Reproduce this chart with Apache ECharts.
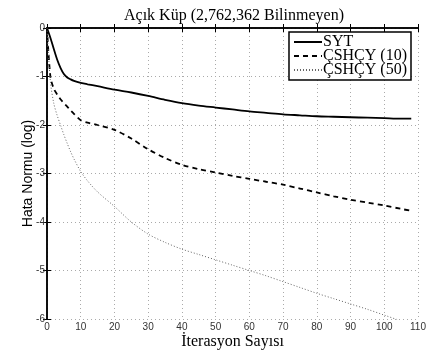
<!DOCTYPE html>
<html>
<head>
<meta charset="utf-8">
<script src="https://cdn.jsdelivr.net/npm/echarts@6/dist/echarts.min.js"></script>
<style>html,body{margin:0;padding:0;background:#fff}#c{width:427px;height:352px}</style>
</head>
<body>
<div id="c"></div>
<script>
const iterations = [0,1,2,3,4,5,6,7,8,10,12,15,20,25,30,35,40,45,50,55,60,65,70,75,80,85,90,95,100,105,108];
const syt = [0,-0.2,-0.43,-0.65,-0.82,-0.95,-1.02,-1.06,-1.09,-1.13,-1.16,-1.2,-1.27,-1.33,-1.4,-1.48,-1.55,-1.6,-1.64,-1.68,-1.72,-1.75,-1.78,-1.8,-1.82,-1.83,-1.84,-1.85,-1.86,-1.87,-1.87];
const cshcy10 = [0,-1.0,-1.25,-1.37,-1.47,-1.55,-1.62,-1.7,-1.77,-1.9,-1.95,-2.0,-2.1,-2.28,-2.5,-2.68,-2.82,-2.91,-2.98,-3.05,-3.11,-3.17,-3.23,-3.31,-3.39,-3.47,-3.54,-3.6,-3.66,-3.73,-3.77];
const cshcy50 = [0,-1.1,-1.55,-1.8,-2.0,-2.2,-2.38,-2.55,-2.7,-2.96,-3.15,-3.38,-3.68,-4.0,-4.25,-4.42,-4.56,-4.67,-4.78,-4.89,-5.0,-5.11,-5.23,-5.35,-5.47,-5.58,-5.69,-5.8,-5.92,-6.04,-6.1];
const seriesNames = ['SYT','ÇSHÇY (10)','ÇSHÇY (50)'];
const titleText = 'Açık Küp (2,762,362 Bilinmeyen)';
const xName = 'İterasyon Sayısı';
const yName = 'Hata Normu (log)';

const pairs = vals => iterations.map((x,i)=>[x, vals[i]]);
const serif = '"Liberation Serif","DejaVu Serif",serif';
const sans = '"Liberation Sans",Arial,sans-serif';
const gridLine = {show:true, lineStyle:{color:'#aaa', type:[1,3], width:1}};
const chart = echarts.init(document.getElementById('c'), null, {renderer:'canvas'});
chart.setOption({
  backgroundColor:'#fff',
  animation:false,
  title:{text:titleText, left:124, top:8, padding:0, textStyle:{fontFamily:serif, fontSize:16, fontWeight:'normal', color:'#000'}},
  grid:{left:47, top:28, width:371, height:291, outerBoundsMode:'none', containLabel:false},
  legend:{
    data:seriesNames, orient:'vertical', right:16, top:32,
    backgroundColor:'#fff', borderColor:'#000', borderWidth:1.5,
    padding:[2,4,2,4], itemGap:-2, itemWidth:28, itemHeight:12,
    itemStyle:{opacity:0},
    textStyle:{fontFamily:serif, fontSize:16, color:'#000', padding:[0,0,0,-4]}
  },
  xAxis:[{
    type:'value', min:0, max:110, interval:10, position:'bottom',
    name:xName, nameLocation:'middle', nameGap:15, nameMoveOverlap:false,
    nameTextStyle:{fontFamily:serif, fontSize:16, color:'#000'},
    axisLine:{lineStyle:{color:'#000', width:1.5}},
    axisTick:{inside:true, length:4, lineStyle:{color:'#000'}},
    axisLabel:{fontFamily:sans, fontSize:10, color:'#333', margin:3},
    splitLine:gridLine
  },{
    type:'value', min:0, max:110, interval:10, position:'top',
    axisLine:{lineStyle:{color:'#000', width:1.5}},
    axisTick:{inside:true, length:4, lineStyle:{color:'#000'}},
    axisLabel:{show:false}, splitLine:{show:false}
  }],
  yAxis:[{
    type:'value', min:-6, max:0, interval:1, position:'left',
    name:yName, nameLocation:'middle', nameGap:12, nameMoveOverlap:false,
    nameTextStyle:{fontFamily:sans, fontSize:14, color:'#000'},
    axisLine:{lineStyle:{color:'#000', width:1.5}},
    axisTick:{inside:true, length:4, lineStyle:{color:'#000'}},
    axisLabel:{fontFamily:sans, fontSize:10, color:'#333', margin:2},
    splitLine:gridLine
  },{
    type:'value', min:-6, max:0, interval:1, position:'right',
    axisLine:{lineStyle:{color:'#000', width:1.5}},
    axisTick:{inside:true, length:4, lineStyle:{color:'#000'}},
    axisLabel:{show:false}, splitLine:{show:false}
  }],
  series:[
    {name:seriesNames[0], type:'line', data:pairs(syt), showSymbol:false, symbol:'none', smooth:0.3, clip:true,
     lineStyle:{color:'#000', width:1.8, type:'solid'}, itemStyle:{color:'#000'}},
    {name:seriesNames[1], type:'line', data:pairs(cshcy10), showSymbol:false, symbol:'none', smooth:0.3, clip:true,
     lineStyle:{color:'#000', width:1.8, type:[5,4]}, itemStyle:{color:'#000'}},
    {name:seriesNames[2], type:'line', data:pairs(cshcy50), showSymbol:false, symbol:'none', smooth:0.3, clip:true,
     lineStyle:{color:'#666', width:1, type:[1,2]}, itemStyle:{color:'#666'}}
  ]
});
</script>
</body>
</html>
